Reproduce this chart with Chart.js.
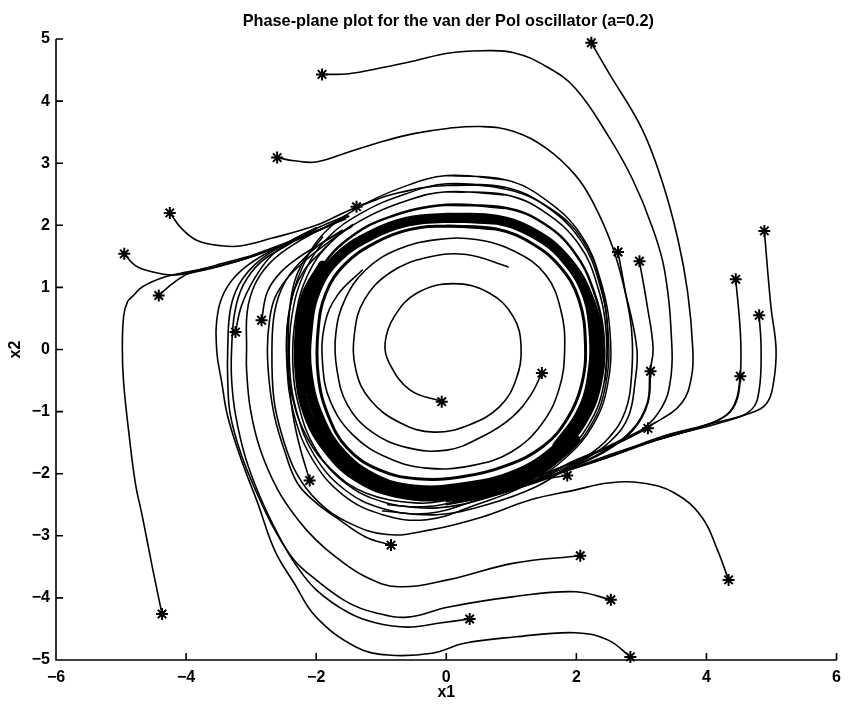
<!DOCTYPE html>
<html>
<head>
<meta charset="utf-8">
<script src="https://cdn.jsdelivr.net/npm/chart.js@4.4.1/dist/chart.umd.min.js"></script>
<style>
  html, body { margin: 0; padding: 0; background: #fff; }
</style>
</head>
<body>
<canvas id="phase" width="849" height="707"></canvas>
<script>
const chartTitle = 'Phase-plane plot for the van der Pol oscillator (a=0.2)';
const xLabel = 'x1';
const yLabel = 'x2';
const xTicks = [-6, -4, -2, 0, 2, 4, 6];
const yTicks = [-5, -4, -3, -2, -1, 0, 1, 2, 3, 4, 5];

// Trajectories as [x1, x2]; the first pair is the start (*).
const trajS1 = [[-1.91,4.43],[-1.50,4.44],[-0.98,4.54],[-0.48,4.65],[0.02,4.77],[0.54,4.81],[1.04,4.78],[1.55,4.55],[1.99,4.20],[2.49,3.44],[2.86,2.75],[3.16,1.99],[3.36,1.25],[3.47,0.01],[3.44,-0.54],[3.32,-0.92],[3.01,-1.29],[2.49,-1.57],[1.99,-1.78],[1.38,-2.10],[0.62,-2.39],[-0.14,-2.55],[-0.90,-2.50]];
const trajS2 = [[2.23,4.94],[2.49,4.47],[3.01,3.55],[3.32,2.70],[3.56,1.78],[3.71,0.93],[3.79,0.01],[3.77,-0.44],[3.62,-0.86],[3.21,-1.18],[2.60,-1.50],[1.99,-1.82],[1.38,-2.21],[0.62,-2.50],[-0.14,-2.66],[-0.98,-2.60]];
const trajS3 = [[-2.60,3.09],[-2.34,3.04],[-2.00,3.02],[-1.50,3.18],[-0.98,3.35],[-0.48,3.48],[0.02,3.56],[0.54,3.59],[1.04,3.51],[1.55,3.23],[1.99,2.80],[2.25,2.38],[2.55,1.67],[2.75,0.93],[2.93,0.01],[2.90,-0.54],[2.80,-1.08],[2.55,-1.45],[2.19,-1.73],[1.68,-1.97],[1.07,-2.21],[0.31,-2.39],[-0.50,-2.42]];
const trajS8 = [[2.64,1.57],[2.74,1.00],[2.85,0.30],[2.85,-0.40],[2.75,-1.00],[2.50,-1.42],[2.15,-1.72],[1.65,-1.95],[1.05,-2.17],[0.30,-2.35]];
const trajS9 = [[2.97,1.42],[3.09,0.70],[3.18,0.01],[3.13,-0.36],[3.09,-0.86],[2.86,-1.29],[2.45,-1.62],[1.99,-1.86],[1.46,-2.10],[0.77,-2.32],[0.00,-2.45]];
const trajS14 = [[3.14,-0.35],[3.10,-0.86],[2.87,-1.30],[2.46,-1.63],[2.00,-1.87],[1.47,-2.11],[0.78,-2.33]];
const trajS11 = [[4.45,1.13],[4.51,0.45],[4.53,0.01],[4.52,-0.43],[4.47,-0.81],[4.32,-1.05],[3.93,-1.24],[3.26,-1.45],[2.49,-1.73],[1.99,-1.90],[1.45,-2.08],[0.90,-2.27],[0.10,-2.44]];
const trajS13 = [[4.52,-0.43],[4.46,-0.80],[4.30,-1.06],[3.90,-1.25],[3.20,-1.47],[2.45,-1.75],[1.95,-1.92],[1.40,-2.10]];
const trajS12 = [[4.81,0.55],[4.84,0.01],[4.81,-0.65],[4.69,-0.97],[4.28,-1.16],[3.52,-1.37],[2.75,-1.61],[1.99,-1.89],[1.40,-2.10],[0.85,-2.30],[0.05,-2.48]];
const trajS10 = [[4.89,1.91],[4.99,0.70],[5.07,0.01],[5.03,-0.54],[4.93,-0.86],[4.69,-1.02],[4.02,-1.21],[3.26,-1.42],[2.49,-1.73],[1.99,-1.90],[1.40,-2.12],[0.80,-2.33],[0.00,-2.50]];
const trajS19 = [[3.10,-1.27],[2.60,-1.53],[1.99,-1.80],[1.40,-2.04],[0.90,-2.20]];
const trajS20 = [[1.86,-2.03],[1.04,-2.16],[0.02,-2.42],[-0.48,-2.47],[-1.24,-2.31],[-1.75,-1.95],[-2.15,-1.40],[-2.38,-0.70],[-2.45,0.00],[-2.40,0.70],[-2.20,1.25],[-1.85,1.65]];
const trajS23 = [[4.34,-3.71],[4.17,-3.23],[3.93,-2.70],[3.51,-2.31],[3.01,-2.15],[2.49,-2.15],[1.99,-2.26],[1.30,-2.42],[0.54,-2.70],[-0.22,-2.90],[-0.91,-2.98],[-1.52,-2.78],[-1.97,-2.45],[-2.30,-2.00],[-2.52,-1.40],[-2.65,-0.80],[-2.68,0.00],[-2.64,0.60],[-2.50,1.05],[-2.25,1.40],[-1.90,1.72],[-1.45,1.98]];
const trajS21 = [[-0.85,-3.15],[-1.24,-3.02],[-1.70,-2.70],[-2.00,-2.47],[-2.29,-2.15],[-2.49,-1.62],[-2.64,-1.08],[-2.72,-0.54],[-2.75,0.01],[-2.72,0.45],[-2.64,0.82],[-2.45,1.14],[-2.14,1.46],[-1.82,1.72],[-1.44,2.01]];
const trajS22 = [[2.06,-3.32],[1.04,-3.44],[0.02,-3.71],[-0.74,-3.82],[-1.24,-3.66],[-1.70,-3.34],[-2.00,-3.07],[-2.28,-2.74],[-2.59,-2.26],[-2.86,-1.61],[-3.01,-0.97],[-3.07,-0.33],[-3.07,0.01],[-3.06,0.61],[-2.95,1.03],[-2.75,1.35],[-2.45,1.62],[-2.00,1.90],[-1.55,2.10]];
const trajS25 = [[2.53,-4.03],[1.99,-3.90],[1.04,-3.98],[0.02,-4.15],[-0.59,-4.31],[-1.09,-4.24],[-1.50,-4.08],[-2.00,-3.71],[-2.34,-3.39],[-2.64,-2.90],[-2.90,-2.34],[-3.15,-1.70],[-3.32,-1.05],[-3.36,-0.49],[-3.36,0.01],[-3.32,0.64],[-3.19,1.04],[-2.95,1.36],[-2.58,1.64],[-2.00,1.96]];
const trajS24 = [[0.36,-4.34],[-0.07,-4.40],[-0.59,-4.47],[-1.09,-4.40],[-1.50,-4.24],[-2.00,-3.87],[-2.31,-3.47],[-2.58,-2.99],[-2.86,-2.38],[-3.09,-1.73],[-3.24,-1.05],[-3.30,-0.49],[-3.30,0.01],[-3.25,0.61],[-3.12,1.04],[-2.86,1.40],[-2.46,1.67],[-2.00,1.94]];
const trajS26 = [[2.83,-4.95],[2.49,-4.68],[1.99,-4.56],[1.04,-4.63],[0.28,-4.73],[-0.22,-4.89],[-0.89,-4.92],[-1.39,-4.79],[-2.00,-4.31],[-2.34,-3.76],[-2.64,-3.23],[-2.90,-2.47],[-3.15,-1.78],[-3.36,-1.08],[-3.45,-0.54],[-3.53,0.00],[-3.51,0.61],[-3.36,1.02],[-3.06,1.35],[-2.54,1.67],[-2.00,1.91]];
const trajS27 = [[-4.37,-4.26],[-4.52,-3.50],[-4.67,-2.70],[-4.78,-2.15],[-4.88,-1.34],[-4.96,-0.54],[-4.98,0.00],[-4.96,0.54],[-4.90,0.77],[-4.82,0.86],[-4.67,1.01],[-4.32,1.17],[-3.97,1.25],[-3.56,1.33],[-2.95,1.51],[-2.00,1.90],[-1.50,2.14]];
const trajS4 = [[-4.25,2.20],[-4.07,1.95],[-3.82,1.75],[-3.45,1.67],[-3.15,1.67],[-2.69,1.79],[-2.00,2.00],[-1.50,2.24],[-1.06,2.42]];
const trajS6 = [[-4.95,1.54],[-4.78,1.35],[-4.52,1.25],[-4.21,1.20],[-3.86,1.25],[-3.45,1.35],[-2.95,1.51],[-2.00,1.90],[-1.52,2.17]];
const trajS7 = [[-4.42,0.87],[-4.21,1.06],[-3.97,1.22],[-3.56,1.35],[-2.95,1.53],[-2.00,1.91],[-1.50,2.15]];
const trajS16 = [[-3.24,0.28],[-3.15,0.70],[-2.95,1.14],[-2.69,1.51],[-2.34,1.78],[-2.00,1.95],[-1.55,2.15]];
const trajS15 = [[-2.84,0.47],[-2.75,0.93],[-2.54,1.25],[-2.23,1.51],[-2.00,1.66],[-1.60,1.92]];
const trajS5 = [[-1.38,2.30],[-0.75,2.52],[0.01,2.64],[0.92,2.58],[1.60,2.27],[2.10,1.76],[2.38,1.03],[2.48,0.24],[2.44,-0.50]];
const trajS17 = [[-1.97,-1.29],[-2.12,-0.75],[-2.20,-0.10],[-2.15,0.55],[-1.98,1.05]];
const trajS18 = [[-2.10,-2.11],[-2.28,-1.45],[-2.39,-0.81],[-2.43,0.00],[-2.39,0.80],[-2.23,1.36],[-1.90,1.81]];

// the two starts inside the cycle, spiralling out
const spiralA = [[-0.07,-0.84],[-0.56,-0.65],[-0.88,-0.21],[-0.94,0.11],[-0.80,0.53],[-0.45,0.91],[0.11,1.06],[0.66,0.91],[1.03,0.53],[1.15,0.04],[1.07,-0.49],[0.82,-0.92],[0.36,-1.21],[-0.19,-1.33],[-0.71,-1.18],[-1.17,-0.81],[-1.39,-0.33],[-1.41,0.27],[-1.26,0.80],[-0.86,1.24],[-0.30,1.48],[0.31,1.53],[0.95,1.33]];
const spiralB = [[1.47,-0.38],[1.30,-0.73],[1.00,-1.10],[0.54,-1.41],[0.01,-1.62],[-0.60,-1.58],[-1.14,-1.33],[-1.52,-0.89],[-1.68,-0.33],[-1.70,0.24],[-1.56,0.80],[-1.24,1.28],[-0.75,1.61],[-0.14,1.77],[0.46,1.77],[1.07,1.57],[1.53,1.20],[1.76,0.64],[1.82,0.00],[1.73,-0.65],[1.46,-1.21],[1.00,-1.65],[0.39,-1.87],[-0.30,-1.91],[-0.91,-1.74],[-1.44,-1.37],[-1.78,-0.84],[-1.90,-0.25],[-1.87,0.40],[-1.67,0.88],[-1.29,1.28]];

// loops of the limit-cycle band, outermost to innermost
const bandOuter1 = [[0.01,2.80],[0.92,2.73],[1.53,2.41],[2.07,1.85],[2.37,1.12],[2.52,0.24],[2.48,-0.57],[2.26,-1.21],[1.84,-1.74],[1.23,-2.18],[0.46,-2.50],[-0.30,-2.74],[-0.98,-2.66],[-1.59,-2.34],[-2.05,-1.78],[-2.34,-1.05],[-2.45,-0.25],[-2.42,0.56],[-2.23,1.28],[-1.90,1.85],[-1.36,2.28],[-0.68,2.61]];
const bandOuter1b = [[0.01,2.67],[0.92,2.61],[1.53,2.31],[2.06,1.77],[2.35,1.08],[2.49,0.24],[2.45,-0.57],[2.23,-1.21],[1.80,-1.74],[1.19,-2.14],[0.43,-2.44],[-0.30,-2.64],[-0.98,-2.56],[-1.57,-2.25],[-2.03,-1.70],[-2.30,-1.00],[-2.41,-0.22],[-2.37,0.56],[-2.18,1.24],[-1.84,1.78],[-1.30,2.20],[-0.64,2.50]];
const bandOuter2 = [[0.01,2.54],[0.92,2.49],[1.53,2.20],[2.04,1.69],[2.32,1.04],[2.46,0.24],[2.42,-0.57],[2.19,-1.21],[1.76,-1.73],[1.15,-2.10],[0.39,-2.37],[-0.30,-2.53],[-0.98,-2.45],[-1.55,-2.15],[-2.00,-1.62],[-2.26,-0.94],[-2.36,-0.20],[-2.31,0.56],[-2.13,1.20],[-1.78,1.72],[-1.24,2.12],[-0.60,2.40]];
const bandMid = [[0.01,2.33],[0.92,2.28],[1.50,2.03],[1.96,1.58],[2.26,0.96],[2.42,0.19],[2.37,-0.57],[2.14,-1.18],[1.73,-1.68],[1.12,-2.07],[0.36,-2.29],[-0.37,-2.37],[-1.01,-2.26],[-1.58,-1.94],[-1.97,-1.37],[-2.19,-0.65],[-2.23,0.08],[-2.16,0.72],[-1.94,1.28],[-1.52,1.77],[-0.91,2.12]];
const bandCore = [[0.01,2.12],[0.77,2.09],[1.38,1.85],[1.84,1.45],[2.17,0.88],[2.34,0.16],[2.29,-0.57],[2.07,-1.13],[1.68,-1.61],[1.07,-2.01],[0.31,-2.21],[-0.45,-2.26],[-1.06,-2.10],[-1.59,-1.70],[-1.94,-1.13],[-2.13,-0.41],[-2.13,0.32],[-2.00,0.96],[-1.67,1.48],[-1.14,1.85],[-0.60,2.06]];
const bandInner = [[0.01,1.99],[0.77,1.94],[1.33,1.70],[1.76,1.32],[2.04,0.80],[2.14,0.08],[2.08,-0.57],[1.87,-1.10],[1.50,-1.55],[0.92,-1.87],[0.24,-2.05],[-0.45,-2.08],[-1.03,-1.94],[-1.52,-1.59],[-1.82,-1.05],[-1.97,-0.41],[-1.97,0.32],[-1.85,0.91],[-1.56,1.37],[-1.09,1.72],[-0.57,1.93]];
// the darkest stretches of the band: bottom and left side, and the right side
const bandHeavy = [[1.99,-1.45],[1.46,-1.94],[0.77,-2.26],[0.01,-2.37],[-0.75,-2.32],[-1.36,-2.07],[-1.82,-1.62],[-2.13,-1.05],[-2.26,-0.41],[-2.26,0.32],[-2.16,0.88],[-1.90,1.36]];
const bandHeavyRight = [[1.68,1.61],[2.07,1.04],[2.23,0.32],[2.20,-0.49],[2.02,-1.05],[1.68,-1.54]];

const paths = [trajS1, trajS2, trajS3, trajS8, trajS9, trajS14, trajS11, trajS13, trajS12, trajS10,
  trajS19, trajS20, trajS23, trajS21, trajS22, trajS25, trajS24, trajS26, trajS27, trajS4, trajS6,
  trajS7, trajS16, trajS15, trajS5, trajS17, trajS18, spiralA, spiralB];
const loops = [[bandOuter1, 1.5], [bandOuter1b, 1.5], [bandOuter2, 1.6], [bandMid, 2.5], [bandCore, 10], [bandInner, 3]];
const arcs = [[bandHeavy, 9], [bandHeavyRight, 6]];

const toPts = arr => arr.map(([x, y]) => ({ x, y }));
const tickFmt = v => (v < 0 ? '\u2212' + Math.abs(v) : String(v));
const font = '"Liberation Sans", Arial, Helvetica, sans-serif';

const datasets = [];
loops.forEach(([loop, w]) => {
  datasets.push({
    data: toPts(loop.concat([loop[0], loop[1]])),
    showLine: true, borderColor: '#000', borderWidth: w, pointRadius: 0,
    tension: 0.4, borderJoinStyle: 'round', borderCapStyle: 'round'
  });
});
arcs.forEach(([arc, w]) => {
  datasets.push({
    data: toPts(arc), showLine: true, borderColor: '#000', borderWidth: w,
    pointRadius: 0, tension: 0.4, borderCapStyle: 'round'
  });
});
paths.forEach(p => {
  datasets.push({
    data: toPts(p), showLine: true, borderColor: '#000', borderWidth: 1.6,
    pointRadius: 0, tension: 0.4, borderCapStyle: 'round', clip: false
  });
});
datasets.push({
  data: toPts(paths.map(p => p[0])), showLine: false, pointStyle: 'star',
  pointRadius: 6, borderColor: '#000', borderWidth: 2, clip: false
});

// MATLAB-style frame: left and bottom axes, ticks pointing inwards, labels
const matlabFrame = {
  id: 'matlabFrame',
  afterDraw(chart) {
    const { ctx, chartArea: a, scales: { x, y } } = chart;
    ctx.save();
    ctx.strokeStyle = '#000';
    ctx.lineWidth = 1.6;
    ctx.beginPath();
    ctx.moveTo(a.left, a.top);
    ctx.lineTo(a.left, a.bottom);
    ctx.lineTo(a.right, a.bottom);
    xTicks.forEach(v => {
      const p = x.getPixelForValue(v);
      ctx.moveTo(p, a.bottom);
      ctx.lineTo(p, a.bottom - 7);
    });
    yTicks.forEach(v => {
      const p = y.getPixelForValue(v);
      ctx.moveTo(a.left, p);
      ctx.lineTo(a.left + 7, p);
    });
    ctx.stroke();

    ctx.fillStyle = '#000';
    ctx.textAlign = 'center';
    ctx.textBaseline = 'alphabetic';
    ctx.font = 'bold 16.3px ' + font;
    ctx.fillText(chartTitle, (a.left + a.right) / 2 + 2, 26);
    ctx.font = 'bold 16px ' + font;
    ctx.fillText(xLabel, (a.left + a.right) / 2, 697);
    ctx.translate(20, (a.top + a.bottom) / 2);
    ctx.rotate(-Math.PI / 2);
    ctx.fillText(yLabel, 0, 0);
    ctx.restore();
  }
};

new Chart(document.getElementById('phase').getContext('2d'), {
  type: 'scatter',
  data: { datasets },
  options: {
    responsive: false,
    animation: false,
    devicePixelRatio: 1,
    layout: { padding: { top: 39, right: 6, left: 0, bottom: 0 } },
    plugins: { legend: { display: false }, tooltip: { enabled: false } },
    scales: {
      x: {
        type: 'linear', min: -6, max: 6,
        afterBuildTicks: s => { s.ticks = xTicks.map(v => ({ value: v })); },
        afterFit: s => { s.height = 47; },
        grid: { display: false, drawTicks: false },
        border: { display: false },
        ticks: { color: '#000', padding: 8, maxRotation: 0, font: { family: font, size: 16, weight: 'bold' }, callback: tickFmt }
      },
      y: {
        type: 'linear', min: -5, max: 5,
        afterBuildTicks: s => { s.ticks = yTicks.map(v => ({ value: v })); },
        afterFit: s => { s.width = 56; },
        grid: { display: false, drawTicks: false },
        border: { display: false },
        ticks: { color: '#000', padding: 6, font: { family: font, size: 16, weight: 'bold' }, callback: tickFmt }
      }
    }
  },
  plugins: [matlabFrame]
});
</script>
</body>
</html>
